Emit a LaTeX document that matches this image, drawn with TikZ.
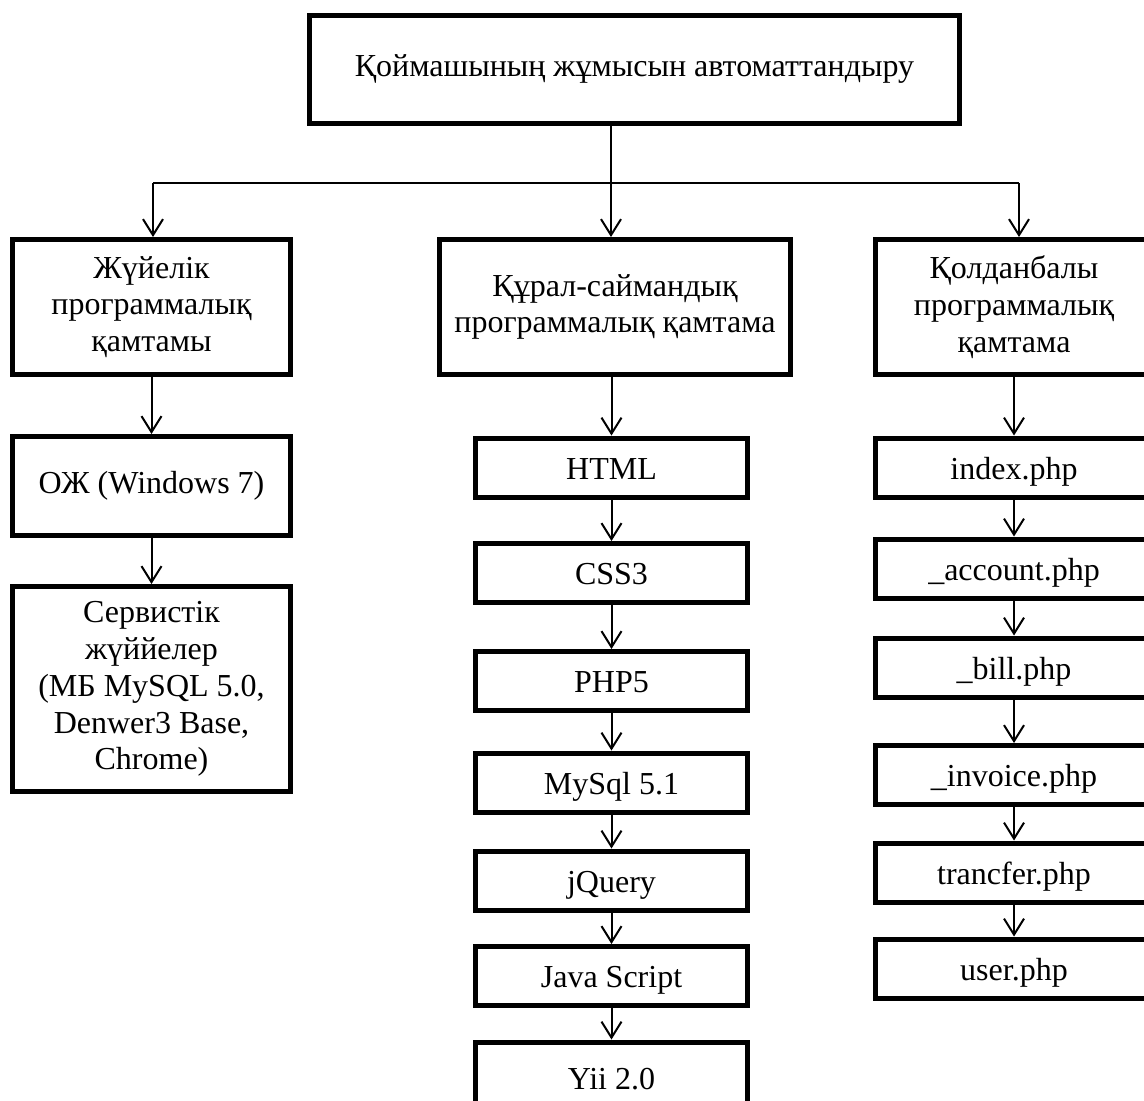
\documentclass[tikz,border=0pt]{standalone}
\usepackage{fontspec}
\setmainfont{Liberation Serif}
\usetikzlibrary{arrows.meta}

\begin{document}
\begin{tikzpicture}[x=0.5pt,y=-0.5pt]
	 \tikzstyle{block}=[draw,line width=2.5pt,inner sep=2pt,align=center,font=\fontsize{16}{18.4}\selectfont]
	 \tikzstyle{big block}=[block,minimum width=139pt,minimum height=67.5pt]
	 \tikzstyle{small block}=[block,minimum width=136pt,minimum height=29.5pt,text height=12.5pt,text depth=1pt]
	 \tikzstyle{edge}=[draw,line width=1pt,-,black]
	 \tikzstyle{arrow edge}=[edge,-{Straight Barb[length=8pt,width=10pt]}]

	 \useasboundingbox (0,0) rectangle (1144,1100);

	 \node[block,minimum width=325pt,minimum height=54pt] (top) at (634.5,69) {Қоймашының жұмысын автоматтандыру};

	 \node[big block] (sys) at (151.5,307) 	{Жүйелік\\программалық\\қамтамы};
	 \node[big block,minimum width=175.5pt] (tool) at (615,307) 	{Құрал-саймандық\\программалық қамтама};
	 \node[big block] (app) at (1014,307) 	{Қолданбалы\\программалық\\қамтама};

	 \node[block,minimum width=139pt,minimum height=49.5pt] (oj) at (151.5,486) 	{ОЖ (Windows 7)};
	 \node[block,minimum width=139pt,minimum height=102.5pt] (serv) at (151.5,689) 	{Сервистік\\жүййелер\\(МБ MySQL 5.0,\\Denwer3 Base,\\Chrome)};

	 \node[small block] (html) at (611.5,467.5) 	{HTML};
	 \node[small block] (css) at (611.5,573) 	{CSS3};
	 \node[small block] (php) at (611.5,681) 	{PHP5};
	 \node[small block] (mysql) at (611.5,782.5) 	{MySql 5.1};
	 \node[small block] (jq) at (611.5,880.5) 	{jQuery};
	 \node[small block] (js) at (611.5,976) 	{Java Script};
	 \node[small block,minimum height=36pt] (yii) at (611.5,1078) 	{Yii 2.0};

	 \node[small block,minimum width=138.5pt] (index) at (1014,467.5) 	{index.php};
	 \node[small block,minimum width=138.5pt] (account) at (1014,568.5) 	{\_account.php};
	 \node[small block,minimum width=138.5pt] (bill) at (1014,667.5) 	{\_bill.php};
	 \node[small block,minimum width=138.5pt] (invoice) at (1014,775) 	{\_invoice.php};
	 \node[small block,minimum width=138.5pt] (trancfer) at (1014,872.5) 	{trancfer.php};
	 \node[small block,minimum width=138.5pt] (user) at (1014,968.5) 	{user.php};

	 \coordinate (busL) at (153,183);
	 \coordinate (busM) at (611,183);
	 \coordinate (busR) at (1019,183);

	 \draw[edge] (busM |- top.south) -- (busM);
	 \draw[edge] (busL) -- (busR);
	 \draw[arrow edge] (busL) -- (busL |- sys.north);
	 \draw[arrow edge] (busM) -- (busM |- tool.north);
	 \draw[arrow edge] (busR) -- (busR |- app.north);

	 \draw[arrow edge] (sys) -- (oj);
	 \draw[arrow edge] (oj) -- (serv);

	 \draw[arrow edge] (html.north |- tool.south) -- (html.north);
	 \draw[arrow edge] (html) -- (css);
	 \draw[arrow edge] (css) -- (php);
	 \draw[arrow edge] (php) -- (mysql);
	 \draw[arrow edge] (mysql) -- (jq);
	 \draw[arrow edge] (jq) -- (js);
	 \draw[arrow edge] (js) -- (yii);

	 \draw[arrow edge] (app) -- (index);
	 \draw[arrow edge] (index) -- (account);
	 \draw[arrow edge] (account) -- (bill);
	 \draw[arrow edge] (bill) -- (invoice);
	 \draw[arrow edge] (invoice) -- (trancfer);
	 \draw[arrow edge] (trancfer) -- (user);
\end{tikzpicture}
\end{document}
